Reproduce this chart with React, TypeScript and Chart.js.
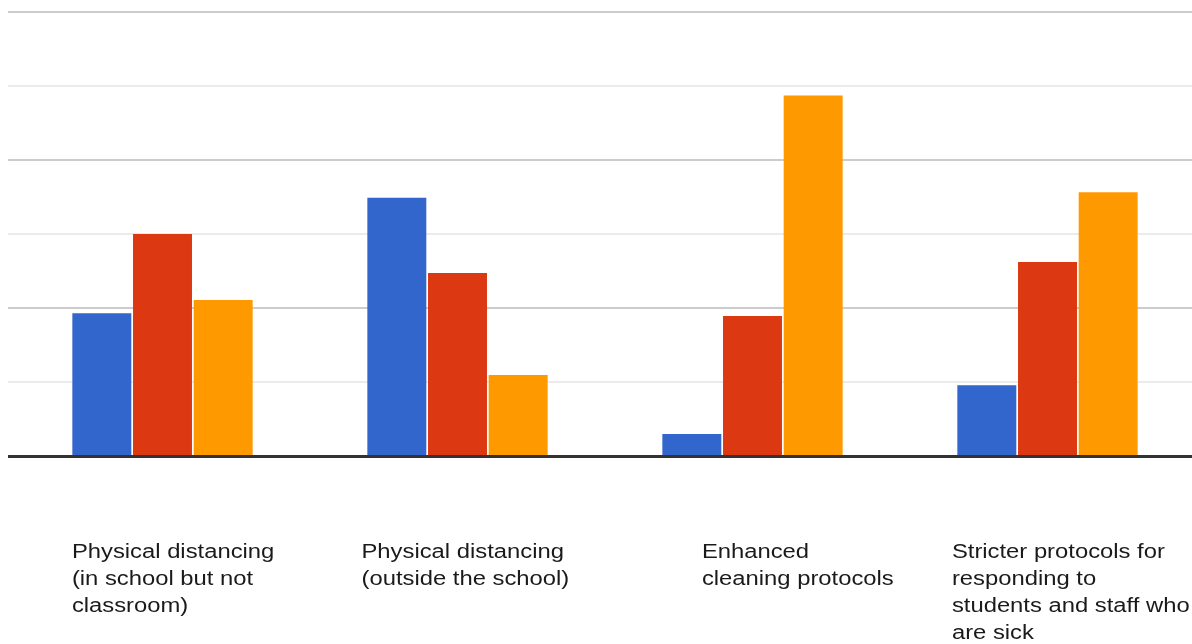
import React, { useEffect, useRef } from "react";
import { Chart, registerables } from "chart.js";

Chart.register(...registerables);

// Measures reported, grouped by category (three response groups per category)
const categories: string[][] = [
  ["Physical distancing", "(in school but not", "classroom)"],
  ["Physical distancing", "(outside the school)"],
  ["Enhanced", "cleaning protocols"],
  ["Stricter protocols for", "responding to", "students and staff who", "are sick"],
];

const seriesBlue = [9.66, 17.45, 1.52, 4.8];
const seriesRed = [15.0, 12.37, 9.47, 13.12];
const seriesOrange = [10.55, 5.5, 24.33, 17.82];

const yMin = 0;
const yMax = 30;
const yStep = 5;

// Horizontal nudge of each wrapped category label relative to its category centre
const LABEL_NUDGE = [-90.6, -96, -50.6, -95.6];
const LABEL_LINE_HEIGHT = 27;
const LABEL_STRETCH = 1.19;

const categoryLabelsPlugin = {
  id: "categoryLabels",
  afterDraw(chart: any) {
    const { ctx, chartArea } = chart;
    const xScale = chart.scales.x;
    ctx.save();
    ctx.fillStyle = "#1a1a1a";
    ctx.font = '20px "Liberation Sans", Arial, sans-serif';
    ctx.textAlign = "left";
    ctx.textBaseline = "alphabetic";
    categories.forEach((lines, i) => {
      const x = xScale.getPixelForValue(i) + LABEL_NUDGE[i];
      const y0 = chartArea.bottom + 101.5;
      lines.forEach((line, k) => {
        ctx.save();
        ctx.translate(x, y0 + k * LABEL_LINE_HEIGHT);
        ctx.scale(LABEL_STRETCH, 1);
        ctx.fillText(line, 0, 0);
        ctx.restore();
      });
    });
    ctx.restore();
  },
};

const baselinePlugin = {
  id: "baseline",
  afterDatasetsDraw(chart: any) {
    const { ctx, width } = chart;
    const y = chart.scales.y.getPixelForValue(0);
    ctx.save();
    ctx.strokeStyle = "#333333";
    ctx.lineWidth = 3;
    ctx.beginPath();
    ctx.moveTo(8, y);
    ctx.lineTo(width, y);
    ctx.stroke();
    ctx.restore();
  },
};

export default function App() {
  const canvasRef = useRef<HTMLCanvasElement | null>(null);

  useEffect(() => {
    if (!canvasRef.current) return;
    const chart = new Chart(canvasRef.current, {
      type: "bar",
      data: {
        labels: categories.map((c) => c.join(" ")),
        datasets: [
          { label: "Blue", data: seriesBlue, backgroundColor: "#3366CC" },
          { label: "Red", data: seriesRed, backgroundColor: "#DC3912" },
          { label: "Orange", data: seriesOrange, backgroundColor: "#FF9900" },
        ],
      },
      options: {
        responsive: false,
        animation: false,
        devicePixelRatio: 1,
        layout: { padding: { left: 8, right: 5, top: 11.5, bottom: 187.5 } },
        datasets: {
          bar: { categoryPercentage: 0.617, barPercentage: 0.972 },
        },
        plugins: {
          legend: { display: false },
          tooltip: { enabled: false },
          title: { display: false },
        },
        scales: {
          x: { display: false },
          y: {
            min: yMin,
            max: yMax,
            border: { display: false },
            ticks: { display: false, stepSize: yStep },
            grid: {
              drawTicks: true,
              tickLength: 7,
              lineWidth: 2,
              color: (ctx: any) => {
                const v = ctx.tick ? ctx.tick.value : 0;
                if (v === 0) return "#333333";
                return v % 10 === 0 ? "#cccccc" : "#ebebeb";
              },
            },
          },
        },
      },
      plugins: [categoryLabelsPlugin, baselinePlugin],
    });
    return () => chart.destroy();
  }, []);

  return (
    <div
      style={{
        position: "fixed",
        left: 0,
        top: 0,
        width: 1192,
        height: 644,
        overflow: "hidden",
        background: "#ffffff",
      }}
    >
      <canvas
        ref={canvasRef}
        width={1200}
        height={644}
        style={{ display: "block", width: 1200, height: 644 }}
      />
    </div>
  );
}
